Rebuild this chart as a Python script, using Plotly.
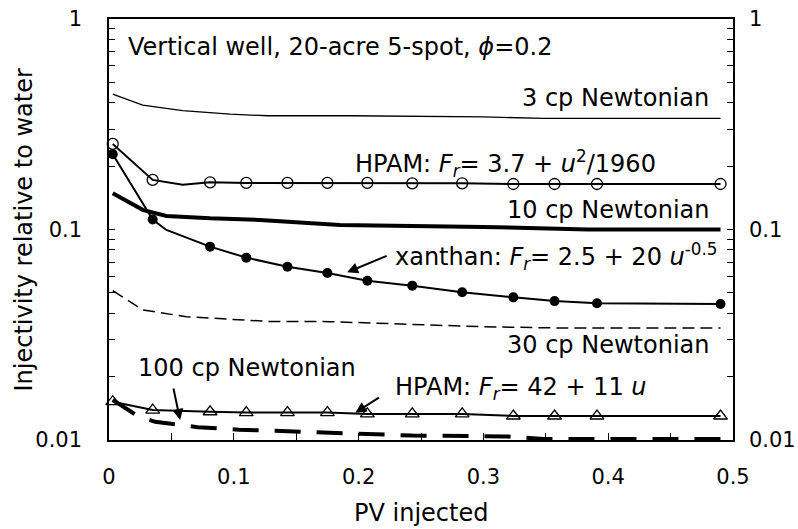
import math
import plotly.graph_objects as go

# --- data -------------------------------------------------------------
# PV injected at the plotted polymer points
pv_pts = [0.003, 0.035, 0.081, 0.110, 0.143, 0.175, 0.207, 0.243, 0.283, 0.324, 0.357, 0.391, 0.490]

# HPAM, Fr = 3.7 + u^2/1960 (open circles)
hpam_lo_pts = [0.255, 0.172, 0.1675, 0.1665, 0.1665, 0.1665, 0.1665, 0.1657, 0.1657, 0.1645, 0.1645, 0.1645, 0.1645]
hpam_lo_line_pv = [0.003, 0.035, 0.059, 0.081, 0.110, 0.175, 0.243, 0.283, 0.324, 0.490]
hpam_lo_line = [0.255, 0.172, 0.163, 0.1675, 0.1665, 0.1665, 0.1657, 0.1657, 0.1645, 0.1645]

# xanthan, Fr = 2.5 + 20 u^-0.5 (filled circles)
xanthan_pts = [0.228, 0.1115, 0.0829, 0.0735, 0.0665, 0.0621, 0.0571, 0.0541, 0.0503, 0.0476, 0.0457, 0.0446, 0.0443]
xanthan_line_pv = [0.003, 0.035, 0.046, 0.081, 0.110, 0.143, 0.175, 0.207, 0.243, 0.283, 0.324, 0.357, 0.391, 0.490]
xanthan_line = [0.228, 0.1115, 0.0995, 0.0829, 0.0735, 0.0665, 0.0621, 0.0571, 0.0541, 0.0503, 0.0476, 0.0457, 0.0446, 0.0443]

# HPAM, Fr = 42 + 11 u (open triangles)
hpam_hi_pts = [0.0152, 0.01388, 0.01362, 0.0135, 0.0135, 0.0135, 0.0133, 0.0133, 0.0133, 0.0130, 0.0130, 0.0130, 0.0130]

# Newtonian fluids
pv_3cp = [0.003, 0.027, 0.059, 0.097, 0.127, 0.193, 0.300, 0.348, 0.490]
inj_3cp = [0.44, 0.39, 0.367, 0.353, 0.347, 0.347, 0.343, 0.337, 0.337]

pv_10cp = [0.003, 0.027, 0.046, 0.081, 0.121, 0.185, 0.300, 0.384, 0.490]
inj_10cp = [0.1485, 0.124, 0.116, 0.113, 0.111, 0.105, 0.1028, 0.100, 0.100]

pv_30cp = [0.003, 0.027, 0.062, 0.100, 0.127, 0.177, 0.233, 0.300, 0.370, 0.490]
inj_30cp = [0.0512, 0.0415, 0.0385, 0.0372, 0.0366, 0.0365, 0.0355, 0.0345, 0.0340, 0.0340]

pv_100cp = [0.003, 0.015, 0.023, 0.037, 0.059, 0.071, 0.104, 0.145, 0.177, 0.208, 0.243, 0.319, 0.348, 0.490]
inj_100cp = [0.0155, 0.0140, 0.0130, 0.0122, 0.0117, 0.0115, 0.0112, 0.0110, 0.0108, 0.0106, 0.0105, 0.0104, 0.0101, 0.0101]

# axis ticks
x_major = [0.0, 0.1, 0.2, 0.3, 0.4, 0.5]
x_labels = ["0", "0.1", "0.2", "0.3", "0.4", "0.5"]
x_minor = [0.05, 0.15, 0.25, 0.35, 0.45]
y_major = [0.01, 0.1, 1.0]
y_labels = ["0.01", "0.1", "1"]
y_minor = [m * 10.0 ** e for e in (-2, -1) for m in range(2, 10)]

# --- figure -----------------------------------------------------------
FONT = "DejaVu Sans, Liberation Sans, Arial, sans-serif"
BLACK = "#000000"

fig = go.Figure()

fig.add_trace(go.Scatter(x=pv_3cp, y=inj_3cp, mode="lines",
                         line=dict(color=BLACK, width=1.3), name="3 cp"))
fig.add_trace(go.Scatter(x=pv_10cp, y=inj_10cp, mode="lines",
                         line=dict(color=BLACK, width=4), name="10 cp"))
fig.add_trace(go.Scatter(x=pv_30cp, y=inj_30cp, mode="lines",
                         line=dict(color=BLACK, width=1.5, dash="12px,6px"), name="30 cp"))
fig.add_trace(go.Scatter(x=pv_100cp, y=inj_100cp, mode="lines",
                         line=dict(color=BLACK, width=4, dash="26px,16px"), name="100 cp"))

fig.add_trace(go.Scatter(x=hpam_lo_line_pv, y=hpam_lo_line, mode="lines",
                         line=dict(color=BLACK, width=2), name="HPAM low"))
fig.add_trace(go.Scatter(x=pv_pts, y=hpam_lo_pts, mode="markers", cliponaxis=False,
                         marker=dict(symbol="circle-open", size=11, color=BLACK,
                                     line=dict(width=1.3, color=BLACK)), name="HPAM low pts"))

fig.add_trace(go.Scatter(x=xanthan_line_pv, y=xanthan_line, mode="lines",
                         line=dict(color=BLACK, width=2), name="xanthan"))
fig.add_trace(go.Scatter(x=pv_pts, y=xanthan_pts, mode="markers", cliponaxis=False,
                         marker=dict(symbol="circle", size=10, color=BLACK), name="xanthan pts"))

fig.add_trace(go.Scatter(x=pv_pts, y=hpam_hi_pts, mode="lines+markers", cliponaxis=False,
                         line=dict(color=BLACK, width=2),
                         marker=dict(symbol="triangle-up-open", size=12, color=BLACK,
                                     line=dict(width=1.3, color=BLACK)), name="HPAM high"))

# invisible trace to carry the right-hand axis
fig.add_trace(go.Scatter(x=[0.0], y=[0.1], yaxis="y2", mode="markers",
                         marker=dict(opacity=0), hoverinfo="skip", showlegend=False))


def lg(v):
    return math.log10(v)


def label(text, x, y, anchor):
    fig.add_annotation(x=x, y=y, xref="x", yref="y", text=text, showarrow=False,
                       xanchor=anchor, yanchor="middle",
                       font=dict(family=FONT, size=24, color=BLACK))


def arrow(x_tip, y_tip, ax, ay):
    fig.add_annotation(x=x_tip, y=lg(y_tip), xref="x", yref="y", text="",
                       showarrow=True, arrowhead=2, arrowsize=1.1, arrowwidth=2,
                       arrowcolor=BLACK, ax=ax, ay=ay, standoff=0)


label("Vertical well, 20-acre 5-spot, <i>ϕ</i>=0.2", 0.0135, -0.1316, "left")
label("3 cp Newtonian", 0.4822, -0.3767, "right")
label("HPAM: <i>F<sub>r</sub></i>= 3.7 + <i>u</i><sup>2</sup>/1960", 0.1955, -0.6855, "left")
label("10 cp Newtonian", 0.4822, -0.9074, "right")
label("xanthan: <i>F<sub>r</sub></i>= 2.5 + 20 <i>u</i><sup>-0.5</sup>", 0.2275, -1.1306, "left")
label("30 cp Newtonian", 0.4822, -1.547, "right")
label("100 cp Newtonian", 0.0215, -1.658, "left")
label("HPAM: <i>F<sub>r</sub></i>= 42 + 11 <i>u</i>", 0.2275, -1.753, "left")

arrow(0.1908, 0.0626, 41, -17)
arrow(0.057, 0.01245, -7, -33)
arrow(0.1974, 0.01348, 25, -16)

# axis titles
fig.add_annotation(x=-0.1378, y=0.5, xref="paper", yref="paper", text="Injectivity relative to water",
                   showarrow=False, textangle=-90, xanchor="center", yanchor="middle",
                   font=dict(family=FONT, size=24, color=BLACK))
fig.add_annotation(x=0.5, y=-0.174, xref="paper", yref="paper", text="PV injected",
                   showarrow=False, xanchor="center", yanchor="middle",
                   font=dict(family=FONT, size=24, color=BLACK))

tick_font = dict(family=FONT, size=21, color=BLACK)
tick_common = dict(ticks="inside", tickwidth=1.2, tickcolor=BLACK,
                   showline=True, linecolor=BLACK, linewidth=1.5,
                   showgrid=False, zeroline=False, tickfont=tick_font,
                   automargin=False)

fig.update_layout(
    width=798, height=529,
    margin=dict(l=109, r=65, t=19, b=89, autoexpand=False),
    paper_bgcolor="white", plot_bgcolor="white",
    showlegend=False,
    xaxis=dict(range=[0, 0.5], tickvals=x_major, ticktext=x_labels, ticklen=7,
               mirror=True, ticklabelstandoff=17,
               minor=dict(tickvals=x_minor, ticks="inside", ticklen=7,
                          tickwidth=1.2, tickcolor=BLACK, showgrid=False),
               **tick_common),
    yaxis=dict(type="log", range=[-2, 0], tickvals=y_major, ticktext=y_labels, ticklen=6,
               ticklabelstandoff=21,
               minor=dict(tickvals=y_minor, ticks="inside", ticklen=6,
                          tickwidth=1.2, tickcolor=BLACK, showgrid=False),
               **tick_common),
    yaxis2=dict(type="log", range=[-2, 0], tickvals=y_major, ticktext=y_labels, ticklen=6,
                overlaying="y", side="right", ticklabelstandoff=10,
                minor=dict(tickvals=y_minor, ticks="inside", ticklen=6,
                           tickwidth=1.2, tickcolor=BLACK, showgrid=False),
                **tick_common),
)

fig.write_html("out.html")
